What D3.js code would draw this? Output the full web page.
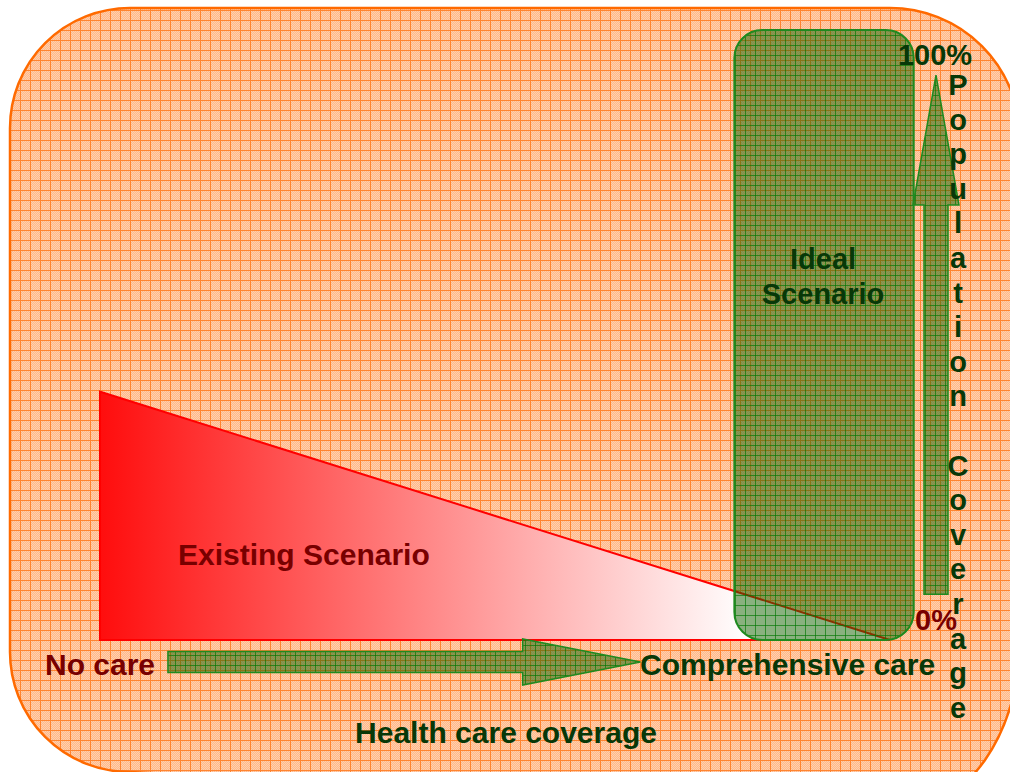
<!DOCTYPE html>
<html>
<head>
<meta charset="utf-8">
<script src="https://cdn.jsdelivr.net/npm/d3@7"></script>
<style>
  html, body { margin: 0; padding: 0; background: #fff; }
  svg { display: block; }
  text { font-family: "Liberation Sans", Arial, sans-serif; font-weight: bold; }
</style>
</head>
<body>
<svg id="main-svg" width="1010" height="772"></svg>
<script>
// axis labels
const careLabels = ["No care", "Comprehensive care"];
const axisTitle = "Health care coverage";
const popTitle = "Population Coverage";
const popTicks = [{ pop: 100, label: "100%" }, { pop: 0, label: "0%" }];

// existing scenario triangle (care 0..100, population %)
const existing = [
  { care: 0, pop: 0 },
  { care: 0, pop: 40.7 },
  { care: 100, pop: 0 }
];
// ideal scenario box
const idealCare = [80.3, 103.0];
const idealPop = [0, 100];
// arrows
const careArrow = { from: 8.6, headAt: 53.5, to: 68.4 };
const popArrow = { from: 7.5, headAt: 71.3, to: 92.6 };

const svg = d3.select("#main-svg");

const x = d3.scaleLinear().domain([0, 100]).range([100, 890]);
const y = d3.scaleLinear().domain([0, 100]).range([640, 30]);

const darkGreen = "#083808";
const darkRed = "#780000";
const green = "#1f8a1f";

const defs = svg.append("defs");

// dithered orange grid
const dither = defs.append("pattern").attr("id", "dither")
  .attr("patternUnits", "userSpaceOnUse").attr("width", 2).attr("height", 2);
dither.append("rect").attr("width", 2).attr("height", 2).attr("fill", "#ffb98a");
dither.append("rect").attr("width", 1).attr("height", 1).attr("fill", "#ffcfae");
dither.append("rect").attr("x", 1).attr("y", 1).attr("width", 1).attr("height", 1).attr("fill", "#ffcfae");

const grid = defs.append("pattern").attr("id", "orangeGrid")
  .attr("patternUnits", "userSpaceOnUse").attr("width", 10).attr("height", 10);
grid.append("rect").attr("width", 10).attr("height", 10).attr("fill", "url(#dither)");
grid.append("path").attr("d", "M0.5,0 V10 M0,0.5 H10")
  .attr("stroke", "#ff8430").attr("stroke-width", 1).attr("fill", "none");

// semi-transparent green grid, offset from the orange one
const ggrid = defs.append("pattern").attr("id", "greenGrid")
  .attr("patternUnits", "userSpaceOnUse").attr("width", 10).attr("height", 10)
  .attr("x", 5).attr("y", 5);
ggrid.append("rect").attr("width", 10).attr("height", 10).attr("fill", "rgba(20,100,0,0.5)");
ggrid.append("path").attr("d", "M0.5,0 V10 M0,0.5 H10")
  .attr("stroke", "rgba(0,120,0,0.65)").attr("stroke-width", 1).attr("fill", "none");

const grad = defs.append("linearGradient").attr("id", "redGrad")
  .attr("gradientUnits", "userSpaceOnUse")
  .attr("x1", x(0)).attr("x2", x(82)).attr("y1", 0).attr("y2", 0);
grad.append("stop").attr("offset", 0).attr("stop-color", "#ff0d0d");
grad.append("stop").attr("offset", 1).attr("stop-color", "#ffffff");

// background panel, partly running off the right and bottom edges
svg.append("path")
  .attr("d", "M130,8 L890,8 A130,130 0 0 1 1020,138 L1020,640 A120,170 0 0 1 900,810 L130,772 A120,120 0 0 1 10,652 L10,128 A120,120 0 0 1 130,8 Z")
  .attr("fill", "url(#orangeGrid)")
  .attr("stroke", "#ff6a00").attr("stroke-width", 2.5);

// existing scenario triangle
svg.append("path")
  .datum(existing)
  .attr("d", d3.line().x(d => x(d.care)).y(d => y(d.pop)).curve(d3.curveLinearClosed))
  .attr("fill", "url(#redGrad)")
  .attr("stroke", "#ff0000").attr("stroke-width", 2);

// ideal scenario box
svg.append("rect")
  .attr("x", x(idealCare[0])).attr("y", y(idealPop[1]))
  .attr("width", x(idealCare[1]) - x(idealCare[0]))
  .attr("height", y(idealPop[0]) - y(idealPop[1]))
  .attr("rx", 28)
  .attr("fill", "url(#greenGrid)")
  .attr("stroke", green).attr("stroke-width", 2);

// horizontal arrow
const hy = 662;
const hPts = [
  [x(careArrow.from), hy - 10.5], [x(careArrow.headAt), hy - 10.5], [x(careArrow.headAt), hy - 23],
  [x(careArrow.to), hy], [x(careArrow.headAt), hy + 23], [x(careArrow.headAt), hy + 10.5],
  [x(careArrow.from), hy + 10.5]
];
svg.append("polygon").attr("points", hPts.map(p => p.join(",")).join(" "))
  .attr("fill", "url(#greenGrid)").attr("stroke", green).attr("stroke-width", 1.5);

// vertical arrow
const vx = 936;
const vPts = [
  [vx - 12, y(popArrow.from)], [vx - 12, y(popArrow.headAt)], [vx - 23, y(popArrow.headAt)],
  [vx, y(popArrow.to)], [vx + 23, y(popArrow.headAt)], [vx + 12, y(popArrow.headAt)],
  [vx + 12, y(popArrow.from)]
];
svg.append("polygon").attr("points", vPts.map(p => p.join(",")).join(" "))
  .attr("fill", "url(#greenGrid)").attr("stroke", green).attr("stroke-width", 1.5);

// labels
svg.append("text").attr("x", 178).attr("y", 565).attr("font-size", 30)
  .attr("fill", darkRed).text("Existing Scenario");

const idealMid = (x(idealCare[0]) + x(idealCare[1])) / 2 - 1;
svg.append("text").attr("text-anchor", "middle")
  .attr("font-size", 29).attr("fill", darkGreen)
  .selectAll("tspan").data(["Ideal", "Scenario"]).enter().append("tspan")
  .attr("x", idealMid)
  .attr("y", (d, i) => 269 + i * 35)
  .text(d => d);

svg.append("text").attr("x", 45).attr("y", 675).attr("font-size", 30)
  .attr("fill", darkRed).text(careLabels[0]);
svg.append("text").attr("x", 640).attr("y", 675).attr("font-size", 30)
  .attr("fill", darkGreen).text(careLabels[1]);
svg.append("text").attr("x", 506).attr("y", 743).attr("text-anchor", "middle").attr("font-size", 30)
  .attr("fill", darkGreen).text(axisTitle);

svg.selectAll(".tick-label").data(popTicks).enter().append("text")
  .attr("class", "tick-label")
  .attr("x", d => d.pop === 100 ? 935 : 936)
  .attr("y", d => d.pop === 100 ? 65 : 630)
  .attr("text-anchor", "middle").attr("font-size", 29)
  .attr("fill", d => d.pop === 100 ? darkGreen : darkRed)
  .text(d => d.label);

// vertical title, one letter per line
svg.append("g").selectAll("text").data(popTitle.split("")).enter().append("text")
  .attr("x", 958).attr("y", (d, i) => 95 + i * 34.6)
  .attr("text-anchor", "middle").attr("font-size", 29)
  .attr("fill", darkGreen).text(d => d);
</script>
</body>
</html>
